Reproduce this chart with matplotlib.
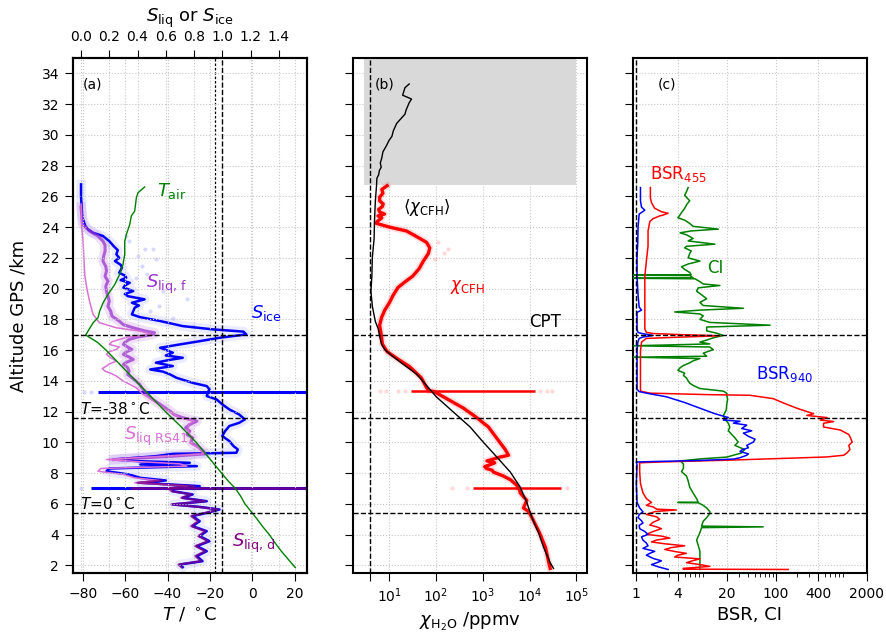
import numpy as np
import matplotlib
matplotlib.use("Agg")
import matplotlib.pyplot as plt
from matplotlib.ticker import FixedLocator, FixedFormatter, NullLocator, LogLocator, NullFormatter

# ---------------- data: panel (a) ----------------
t_air_alt = [1.85, 2.3, 2.9, 3.5, 4.0, 4.5, 5.0, 5.4, 6.0, 6.5, 7.0, 7.5, 8.0, 8.5, 9.0, 9.5,
             10.0, 10.5, 11.0, 11.6, 12.0, 12.5, 13.0, 13.5, 14.0, 14.5, 15.0, 15.5, 16.0, 16.5,
             16.98, 17.24, 17.78, 18.1, 18.54, 19.08, 19.62, 20.27, 20.92, 21.57, 22.23, 23.09,
             23.53, 24.18, 24.72, 25.04, 25.91, 26.24, 26.61]
t_air = [20.3, 17.5, 13.8, 10.5, 8.0, 5.0, 2.3, 0.0, -3.5, -5.5, -8.0, -11.5, -14.5, -17.5, -20.5, -23.5,
         -26.5, -30.0, -33.5, -38.0, -41.0, -44.5, -48.0, -51.5, -55.0, -58.5, -62.0, -65.5, -69.0, -73.0,
         -78.6, -77.5, -75.1, -72.8, -72.0, -70.4, -68.1, -64.9, -62.6, -61.0, -60.2, -60.2,
         -59.4, -57.8, -57.1, -55.5, -54.7, -53.9, -50.8]

s_ice_alt = [26.78, 26.0, 25.2, 24.61, 24.07, 23.85, 23.63, 23.42, 23.09, 22.77, 22.5, 22.23, 22.0,
             21.79, 21.55, 21.36, 21.03, 20.85, 20.71, 20.55, 20.38, 20.2, 20.06, 19.84, 19.65, 19.51,
             19.3, 19.08, 18.9, 18.76, 18.54, 18.32, 18.15, 17.89, 17.56, 17.35, 17.2, 17.02, 16.8,
             16.58, 16.37, 16.15, 15.95, 15.83, 15.65, 15.5, 15.35, 15.18, 14.96, 14.74, 14.6, 14.42,
             14.2, 13.87, 13.66, 13.44, 13.3, 13.01, 12.79, 12.47, 12.14, 11.81,
             11.49, 11.27, 11.06, 10.73, 10.41, 10.08, 9.75, 9.54, 9.32, 9.25, 9.1, 8.88, 8.77, 8.67,
             8.56, 8.45, 8.3, 8.12, 7.91, 7.69, 7.52, 7.37, 7.26, 7.15, 7.03, 6.82,
             6.61, 6.39, 6.17, 5.96, 5.8, 5.63, 5.41, 5.2, 4.87, 4.55, 4.22, 3.9, 3.57, 3.25, 2.92,
             2.6, 2.27, 2.05, 1.88]
s_ice = [0.0, 0.0, 0.005, 0.01, 0.03, 0.05, 0.085, 0.155, 0.2, 0.23, 0.26, 0.25, 0.27,
         0.24, 0.28, 0.29, 0.27, 0.31, 0.32, 0.28, 0.345, 0.31, 0.30, 0.37, 0.31, 0.33,
         0.45, 0.36, 0.41, 0.38, 0.37, 0.36, 0.415, 0.56, 0.72, 0.93, 1.15, 1.17, 0.98,
         0.84, 0.70, 0.56, 0.62, 0.65, 0.60, 0.72, 0.62, 0.53, 0.65, 0.49, 0.58, 0.63,
         0.675, 0.79, 0.89, 0.91, 0.90, 0.89, 0.96, 1.0, 1.05, 1.12,
         1.16, 1.12, 1.05, 1.02, 1.0, 1.05, 1.08, 1.11, 1.10, 0.65, 0.53, 0.23, 0.42, 0.77,
         0.42, 0.82, 0.20, 0.18, 0.34, 0.42, 0.60, 0.42, 0.63, 0.84, 0.65, 0.65,
         0.79, 0.72, 0.89, 0.65, 0.84, 0.98, 0.89, 0.79, 0.84, 0.79, 0.89, 0.84, 0.91, 0.82, 0.89,
         0.82, 0.86, 0.70, 0.72]
# single-level spikes of S_ice (altitude, low end, high end)
s_ice_spike_alt = [13.27, 7.02]
s_ice_spike_lo = [0.12, 0.07]
s_ice_spike_hi = [3.0, 3.0]

s_liq_f_alt = [25.3, 24.2, 23.74, 23.42, 23.09, 22.8, 22.44, 22.1, 21.79, 21.45, 21.14, 20.8, 20.49,
               20.15, 19.84, 19.5, 19.19, 18.85, 18.54, 18.2, 17.89, 17.65, 17.45, 17.25, 17.13, 17.02,
               16.85, 16.69, 16.5, 16.37, 16.2, 16.04, 15.88, 15.72, 15.55, 15.39, 15.2, 15.07, 14.85,
               14.63, 14.42, 14.2, 13.98, 13.77, 13.55, 13.33, 12.9, 12.47, 12.03, 11.8, 11.6, 11.38,
               11.16, 10.95, 10.73, 10.5, 10.3, 9.97, 9.65, 9.43, 9.32, 9.25, 9.1, 8.95, 8.88]
s_liq_f = [0.0, 0.01, 0.06, 0.12, 0.155, 0.17, 0.17, 0.16, 0.155, 0.175, 0.18, 0.17, 0.19,
           0.175, 0.18, 0.19, 0.20, 0.19, 0.21, 0.22, 0.27, 0.30, 0.37, 0.45, 0.52, 0.51,
           0.40, 0.34, 0.31, 0.30, 0.33, 0.36, 0.32, 0.30, 0.34, 0.37, 0.32, 0.30, 0.33,
           0.34, 0.33, 0.36, 0.39, 0.415, 0.43, 0.45, 0.49, 0.56, 0.63, 0.66, 0.72, 0.82,
           0.77, 0.74, 0.77, 0.75, 0.79, 0.78, 0.84, 0.865, 0.875, 0.88, 0.65, 0.35, 0.23]

s_liq_rs41_alt = [25.5, 24.0, 23.09, 22.0, 20.92, 20.06, 19.19, 18.32, 17.78, 17.45, 17.24, 17.05,
                  16.95, 16.85, 16.69, 16.55, 16.37, 16.2, 16.04, 15.9, 15.72, 15.5, 15.28, 15.1,
                  14.96, 14.8, 14.63, 14.45, 14.31, 13.98, 13.75, 13.55, 13.3, 13.12, 12.9, 12.47,
                  12.03, 11.6, 11.38, 11.16, 10.73, 10.3, 9.97, 9.65, 9.32, 9.25, 9.1, 8.88, 8.77,
                  8.6, 8.45, 8.3, 8.12, 7.91, 7.69, 7.52, 7.37, 7.26, 7.15]
s_liq_rs41 = [0.0, 0.005, 0.014, 0.02, 0.026, 0.04, 0.06, 0.085, 0.13, 0.25, 0.415, 0.49,
              0.45, 0.33, 0.27, 0.22, 0.20, 0.27, 0.25, 0.20, 0.18, 0.21, 0.25, 0.20,
              0.18, 0.15, 0.17, 0.22, 0.25, 0.30, 0.35, 0.39, 0.42, 0.44, 0.48, 0.55,
              0.62, 0.70, 0.80, 0.76, 0.76, 0.78, 0.77, 0.83, 0.86, 0.87, 0.60, 0.18, 0.36,
              0.70, 0.75, 0.14, 0.12, 0.30, 0.38, 0.55, 0.38, 0.58, 0.75]

s_liq_d_alt = [7.52, 7.37, 7.26, 7.15, 7.03, 6.82, 6.61, 6.39, 6.17, 5.96, 5.8, 5.63, 5.41, 5.2,
               4.87, 4.55, 4.22, 3.9, 3.57, 3.25, 2.92, 2.6, 2.27, 2.05, 1.88]
s_liq_d = [0.57, 0.40, 0.60, 0.80, 0.62, 0.64, 0.78, 0.71, 0.88, 0.64, 0.83, 0.97, 0.88, 0.78,
           0.83, 0.78, 0.88, 0.83, 0.90, 0.81, 0.88, 0.81, 0.85, 0.69, 0.71]
s_liq_d_spike_alt = [7.01]
s_liq_d_spike_lo = [0.35]
s_liq_d_spike_hi = [3.0]

ice_pts_alt = [22.6, 22.55, 22.1, 21.9, 21.47, 20.92, 20.7, 19.3, 18.86, 18.54, 18.1, 17.56,
               23.09, 23.42, 19.84, 13.27, 13.27, 7.02]
ice_pts = [0.45, 0.51, 0.40, 0.53, 0.43, 0.47, 0.39, 0.75, 0.55, 0.49, 0.65, 0.79,
           0.34, 0.32, 0.58, 0.02, 0.07, 0.0]

S_CRIT = [0.95, 1.0]
LEVELS = [17.0, 11.6, 5.4]

# ---------------- data: panel (b) ----------------
chi_mean_alt = [33.31, 33.07, 32.58, 32.33, 32.09, 31.6, 31.35, 30.74, 30.25, 29.9, 29.64, 29.27,
                28.9, 28.5, 28.16, 27.9, 27.67, 27.4, 27.18, 26.69, 25.71, 24.49, 23.26, 22.03,
                20.81, 19.83, 18.85, 17.86, 17.37, 16.88, 16.39, 16.03, 15.66, 15.17, 14.43, 13.7,
                12.96, 11.98, 11.0, 10.02, 9.04, 8.06, 7.08, 6.09, 5.11, 4.13, 3.15, 2.17, 1.8]
chi_mean = [26.9, 21.9, 19.5, 30.2, 26.9, 23.0, 21.9, 14.5, 12.3, 11.5, 10.0, 8.7,
            7.4, 7.0, 6.5, 6.8, 6.2, 6.0, 5.5, 5.4, 5.1, 4.9, 4.8, 4.4,
            4.3, 4.1, 4.4, 5.1, 5.9, 6.3, 6.9, 8.1, 11.2, 18.2, 38.9, 63,
            102, 234, 537, 1020, 2000, 3890, 6310, 8710, 11200, 15500, 20000, 27500, 32400]

chi_cfh_alt = [26.69, 26.45, 26.2, 25.95, 25.71, 25.5, 25.34, 25.15, 24.98, 24.85, 24.73, 24.6,
               24.49, 24.35, 24.24, 24.0, 23.75, 23.38, 23.01, 22.65, 22.28, 21.79, 21.3, 20.81,
               20.44, 20.07, 19.58, 19.09, 18.6, 18.11, 17.62, 16.88, 16.39, 15.9, 15.41, 14.92,
               14.19, 13.57, 13.36, 13.31, 12.96, 12.22, 11.61, 11.0, 10.26, 9.53,
               9.16, 9.04, 8.79, 8.67, 8.55, 8.42, 8.3, 8.18, 8.06, 7.81, 7.57, 7.2, 7.02,
               6.98, 6.71, 6.22, 5.73, 5.5, 5.11, 4.13, 3.15, 2.17, 1.8]
chi_cfh = [9.1, 7.0, 7.4, 6.3, 6.3, 7.5, 7.2, 6.0, 6.3, 8.0, 5.8, 7.0,
           6.3, 5.5, 5.4, 10.2, 23.4, 38.9, 63, 74, 69, 54, 44, 32,
           22, 15.5, 12.3, 10.2, 8.1, 6.9, 6.3, 6.9, 7.2, 9.1, 15.5, 27.5,
           49, 63, 70, 90, 145, 389, 741, 1320, 2000, 3020,
           3550, 2340, 1230, 1800, 1450, 1100, 1200, 1600, 1700, 2750, 3890, 5370, 5600,
           6000, 6310, 8710, 7410, 9500, 11200, 16200, 21900, 25700, 27500]
chi_spike_alt = [13.33, 7.0]
chi_spike_lo = [30, 630]
chi_spike_hi = [13200, 45700]

cfh_pts_alt = [13.33, 13.33, 13.33, 13.33, 13.33, 13.33, 13.33, 7.0, 7.0, 7.0, 22.6, 22.3, 23.0, 21.9]
cfh_pts = [6.3, 8.8, 15.6, 21.7, 17000, 23500, 30000, 217, 457, 63000, 180, 150, 110, 95]

CHI_REF = 4.0
GREY_X = [2.9, 1e5]
GREY_Y = [26.75, 35.0]

# ---------------- data: panel (c) ----------------
bsr940_alt = [26.57, 25.71, 25.3, 25.1, 24.95, 24.85, 24.0, 23.0, 22.03, 20.81, 19.58, 18.8, 18.6,
              18.45, 17.37, 17.15, 17.08, 16.95, 16.85, 16.76, 16.5, 15.9, 14.43, 13.45, 13.3, 13.2,
              12.96, 12.59, 12.22, 11.86, 11.61, 11.45, 11.37, 11.25, 11.12, 10.9, 10.75, 10.6,
              10.39, 10.2, 10.02, 9.8, 9.65, 9.5, 9.4, 9.25, 9.16, 9.0, 8.91, 8.82, 8.75, 8.72,
              8.55, 7.32, 6.09, 5.73, 5.48, 5.3, 5.11, 4.9, 4.75, 4.6, 4.38, 4.2, 4.01, 3.85, 3.64,
              3.45, 3.27, 3.1, 2.91, 2.78, 2.66, 2.45, 2.29, 2.17, 2.05, 1.9, 1.73]
bsr940 = [1.17, 1.17, 1.21, 1.35, 1.21, 1.12, 1.08, 1.07, 1.045, 1.045, 1.08, 1.12, 1.21,
          1.045, 1.045, 1.08, 1.21, 1.77, 1.27, 1.12, 1.07, 1.045, 1.045, 1.045, 1.12, 1.42,
          2.75, 5.0, 8.25, 13.5, 21.0, 17.8, 30.8, 24.8, 38.4, 32.6, 45.3, 34.4,
          40.6, 50.5, 47.9, 38.4, 40.6, 32.6, 30.8, 40.6, 38.4, 30.8, 24.8, 8.25, 1.77, 1.02,
          1.045, 1.02, 1.045, 1.14, 1.27, 1.12, 1.08, 1.21, 1.27, 1.12, 1.14, 1.35, 1.5, 1.21, 1.27,
          1.42, 1.5, 1.27, 1.87, 1.59, 1.42, 1.77, 2.33, 2.0, 1.68, 2.1, 2.9]

bsr455_alt = [26.57, 25.9, 25.59, 25.22, 25.0, 24.9, 24.78, 24.73, 24.55, 24.36, 23.75, 22.77, 21.79,
              20.81, 19.83, 18.36, 17.37, 17.15, 17.08, 17.0, 16.93, 16.85, 16.76, 16.52, 15.9,
              14.68, 13.33, 13.2, 13.16, 13.1, 13.06, 12.84, 12.65, 12.47, 12.22, 11.86, 11.75,
              11.61, 11.45, 11.35, 11.24, 11.0, 10.8, 10.51, 10.3, 10.02, 9.8, 9.53, 9.3, 9.16,
              9.05, 8.99, 8.85, 8.79, 8.72, 8.67, 8.06, 7.32, 6.71, 6.34, 6.09, 5.9, 5.8, 5.65,
              5.6, 5.5, 5.31, 5.15, 4.99, 4.8, 4.62, 4.5, 4.38, 4.2, 4.01, 3.9, 3.77, 3.65, 3.52,
              3.4, 3.27, 3.15, 3.03, 2.9, 2.78, 2.66, 2.54, 2.42, 2.3, 2.17, 2.05, 1.93, 1.8, 1.75,
              1.73]
bsr455 = [1.62, 1.62, 1.68, 1.87, 2.33, 2.9, 2.45, 2.21, 1.77, 1.59, 1.5, 1.5, 1.42,
          1.35, 1.35, 1.35, 1.35, 1.42, 1.77, 4.76, 15.9, 4.76, 1.42, 1.21, 1.17,
          1.17, 1.17, 1.59, 3.4, 11.4, 42.8, 92, 115, 144, 199, 346, 277,
          537, 430, 670, 479, 479, 832, 1100, 1160, 1230, 1100, 1140, 1030, 930,
          537, 222, 24.8, 8.25, 2.21, 1.14, 1.14, 1.17, 1.27, 1.42, 1.68, 1.42, 1.77, 2.0,
          3.8, 1.9, 1.42, 2.0, 2.2, 1.77, 1.59, 2.0, 2.33, 1.77, 1.42, 2.33, 3.07, 2.0, 1.68,
          2.6, 5.0, 3.2, 2.6, 3.6, 5.3, 4.0, 3.6, 8.25, 6.5, 5.3, 8.25, 11.4, 4.76, 4.76,
          150]

ci_alt = [26.57, 26.3, 26.08, 25.9, 25.71, 25.5, 25.22, 25.0, 24.8, 24.61, 24.45, 24.24, 24.05,
          23.87, 23.75, 23.63, 23.5, 23.26, 23.1, 22.89, 22.75, 22.65, 22.45, 22.28, 22.0, 21.79,
          21.6, 21.42, 21.25, 21.05, 20.9, 20.87, 20.85, 20.7, 20.67, 20.64, 20.45, 20.3, 20.2,
          20.05, 19.83, 19.6, 19.34, 19.1, 18.9, 18.72, 18.6, 18.48, 18.35, 18.23, 18.0, 17.8,
          17.62, 17.5, 17.25, 17.1, 16.95, 16.8, 16.65, 16.52, 16.4, 16.28, 16.2, 16.03, 15.8,
          15.6, 15.54, 15.45, 15.3, 15.17, 15.0, 14.85, 14.68, 14.5, 14.35, 14.19, 14.0, 13.85,
          13.7, 13.5, 13.33, 13.2, 13.08, 12.8, 12.47, 12.1, 11.74, 11.5, 11.24, 11.0, 10.75,
          10.51, 10.3, 10.02, 9.8, 9.53, 9.3, 9.04, 8.92, 8.79, 8.6, 8.3, 8.1, 7.81, 7.5, 7.08,
          6.7, 6.34, 6.1, 6.09, 6.07, 5.9, 5.73, 5.5, 5.36, 5.1, 4.87, 4.55, 4.5, 4.45, 4.13,
          3.64, 3.3, 2.91, 2.42, 2.0, 1.73]
ci = [5.6, 5.3, 5.0, 5.4, 5.9, 5.4, 5.0, 4.6, 4.3, 4.0, 5.0, 5.9, 6.6,
      15.1, 6.2, 4.3, 5.3, 6.6, 5.6, 13.5, 5.3, 5.0, 6.2, 5.9, 5.6, 8.25,
      5.6, 4.5, 5.0, 5.9, 6.2, 0.9, 5.9, 6.6, 0.9, 7.0, 8.25, 9.2, 15.9,
      7.8, 7.4, 8.7, 10.3, 8.25, 9.2, 34.4, 8.25, 3.6, 8.25, 9.2, 8.25, 11.4,
      83, 10.3, 10.3, 14.3, 17.8, 12.8, 10.3, 8.25, 11.4, 0.9, 11.4, 12.8, 9.2,
      10.3, 0.9, 8.25, 6.6, 5.9, 4.8, 4.3, 4.0, 5.0, 4.8, 5.3, 5.6, 5.9,
      6.6, 8.25, 17.8, 19.9, 19.9, 20.5, 19.9, 19.6, 17.8, 18.8, 21.0, 22.0, 21.0,
      23.5, 26.0, 29.0, 26.0, 36.0, 32.0, 19.9, 8.25, 4.3, 4.8, 4.8, 4.5, 5.3, 5.6, 5.9,
      6.6, 7.4, 7.8, 4.0, 7.8, 9.2, 10.3, 11.4, 11.4, 10.3, 9.2, 8.7, 66, 8.7, 8.25,
      7.4, 7.8, 8.25, 8.25, 8.25, 8.25]

BSR_REF = 1.0

# ---------------- figure ----------------
plt.rcParams.update({
    "font.size": 10,
    "axes.linewidth": 1.5,
    "xtick.major.size": 6, "ytick.major.size": 6,
    "xtick.minor.size": 3, "ytick.minor.size": 3,
    "xtick.major.pad": 4, "ytick.major.pad": 4,
})

fig = plt.figure(figsize=(8.87, 6.41), dpi=100)
W, H = 887.0, 641.0
bottom = 1 - 573 / H
height = 515 / H
width = 234 / W
ax_a = fig.add_axes([73 / W, bottom, width, height])
ax_b = fig.add_axes([353 / W, bottom, width, height])
ax_c = fig.add_axes([633 / W, bottom, width, height])

grid_kw = dict(color="0.78", linestyle=":", linewidth=0.8)
yt = np.arange(2, 35, 2)

for ax in (ax_a, ax_b, ax_c):
    ax.set_ylim(1.5, 35)
    ax.set_yticks(yt)
    ax.grid(True, **grid_kw)
    ax.set_axisbelow(True)
    for lv in LEVELS:
        ax.axhline(lv, color="k", ls="--", lw=1.0, zorder=4)
ax_b.set_yticklabels([])
ax_c.set_yticklabels([])

# ---- panel (a) ----
ax_s = ax_a.twiny()
ax_s.set_xlim(-0.057, 1.60)
ax_s.set_ylim(1.5, 35)
ax_s.set_xticks(np.arange(0, 1.41, 0.2))
ax_s.set_xticklabels(["%.1f" % v for v in np.arange(0, 1.41, 0.2)])
ax_s.grid(True, axis="x", **grid_kw)
ax_s.set_xlabel(r"$S_\mathrm{liq}$ or $S_\mathrm{ice}$", fontsize=13, labelpad=6)

ax_a.set_zorder(ax_s.get_zorder() + 1)
ax_a.patch.set_visible(False)

ax_a.set_xlim(-84.6, 25.8)
ax_a.set_xticks([-80, -60, -40, -20, 0, 20])
ax_a.set_xlabel(r"$T$ / $^\circ$C", fontsize=13)
ax_a.set_ylabel("Altitude GPS /km", fontsize=13, labelpad=10)

ax_s.plot(s_ice, s_ice_alt, color="blue", lw=7, alpha=0.08, solid_joinstyle="round")
ax_s.plot(s_liq_f, s_liq_f_alt, color="darkorchid", lw=7, alpha=0.15)
ax_s.scatter(ice_pts, ice_pts_alt, s=9, color="blue", alpha=0.15, lw=0)
ax_s.plot(s_ice, s_ice_alt, color="blue", lw=1.8)
ax_s.hlines(s_ice_spike_alt, s_ice_spike_lo, s_ice_spike_hi, color="blue", lw=2.2)
ax_s.plot(s_liq_f, s_liq_f_alt, color="darkorchid", lw=2.2, alpha=0.75)
ax_s.plot(s_liq_rs41, s_liq_rs41_alt, color="orchid", lw=1.1)
ax_s.plot(s_liq_d, s_liq_d_alt, color="purple", lw=1.6, alpha=0.75)
ax_s.hlines(s_liq_d_spike_alt, s_liq_d_spike_lo, s_liq_d_spike_hi, color="purple", lw=1.8, alpha=0.85)
ax_s.axvline(S_CRIT[0], color="k", ls=(0, (2, 1.5)), lw=0.9)
ax_s.axvline(S_CRIT[1], color="k", ls="--", lw=1.0)

ax_a.plot(t_air, t_air_alt, color="green", lw=1.0)

ax_a.text(0.04, 0.948, "(a)", transform=ax_a.transAxes, fontsize=10, va="center")
ax_a.text(-45, 26.35, r"$T_\mathrm{air}$", color="green", fontsize=13, va="center")
ax_a.text(-50.1, 20.27, r"$S_\mathrm{liq,\,f}$", color="darkorchid", fontsize=13, va="center")
ax_a.text(-0.5, 18.43, r"$S_\mathrm{ice}$", color="blue", fontsize=13, va="center")
ax_a.text(-81.5, 12.15, r"$T$=-38$^\circ$C", fontsize=11, va="center")
ax_a.text(-60.5, 10.4, r"$S_\mathrm{liq\ RS41}$", color="orchid", fontsize=13, va="center")
ax_a.text(-81.5, 5.96, r"$T$=0$^\circ$C", fontsize=11, va="center")
ax_a.text(-9.7, 3.4, r"$S_\mathrm{liq,\,d}$", color="purple", fontsize=13, va="center")

# ---- panel (b) ----
ax_b.set_xscale("log")
ax_b.set_xlim(1.7, 1.68e5)
ax_b.fill_betweenx(GREY_Y, GREY_X[0], GREY_X[1], color="0.85", lw=0, zorder=1)
ax_b.xaxis.set_major_locator(FixedLocator([CHI_REF, 1e1, 1e2, 1e3, 1e4, 1e5]))
ax_b.xaxis.set_major_formatter(FixedFormatter(["", r"$10^{1}$", r"$10^{2}$", r"$10^{3}$",
                                               r"$10^{4}$", r"$10^{5}$"]))
ax_b.xaxis.set_minor_locator(NullLocator())
ax_b.axvline(CHI_REF, color="k", ls="--", lw=1.0, zorder=4)
ax_b.plot(chi_cfh, chi_cfh_alt, color="red", lw=5, alpha=0.12, zorder=2)
ax_b.scatter(cfh_pts, cfh_pts_alt, s=9, color="red", alpha=0.15, lw=0, zorder=2)
ax_b.plot(chi_cfh, chi_cfh_alt, color="red", lw=2.4, zorder=3)
ax_b.hlines(chi_spike_alt, chi_spike_lo, chi_spike_hi, color="red", lw=1.8, zorder=3)
ax_b.plot(chi_mean, chi_mean_alt, color="black", lw=1.0, zorder=3)
ax_b.set_xlabel(r"$\chi_\mathrm{H_2O}$ /ppmv", fontsize=13)
ax_b.text(0.094, 0.948, "(b)", transform=ax_b.transAxes, fontsize=10, va="center")
ax_b.text(20, 25.3, r"$\langle\chi_\mathrm{CFH}\rangle$", fontsize=12, va="center")
ax_b.text(200, 20.1, r"$\chi_\mathrm{CFH}$", color="red", fontsize=12, va="center")
ax_b.text(1.0e4, 17.85, "CPT", fontsize=12, va="center")

# ---- panel (c) ----
ax_c.set_xscale("log")
ax_c.set_xlim(0.915, 2000)
cticks = [1, 4, 20, 100, 400, 2000]
ax_c.xaxis.set_major_locator(FixedLocator(cticks))
ax_c.xaxis.set_major_formatter(FixedFormatter([str(v) for v in cticks]))
ax_c.xaxis.set_minor_locator(LogLocator(base=10, subs=np.arange(2, 10), numticks=20))
ax_c.xaxis.set_minor_formatter(NullFormatter())
ax_c.axvline(BSR_REF, color="k", ls="--", lw=1.0, zorder=4)
ax_c.plot(ci, ci_alt, color="green", lw=1.1, zorder=3)
ax_c.plot(bsr455, bsr455_alt, color="red", lw=1.1, zorder=3)
ax_c.plot(bsr940, bsr940_alt, color="blue", lw=1.1, zorder=3)
ax_c.set_xlabel("BSR, CI", fontsize=13)
ax_c.text(0.107, 0.948, "(c)", transform=ax_c.transAxes, fontsize=10, va="center")
ax_c.text(1.59, 27.43, r"BSR$_{455}$", color="red", fontsize=12, va="center")
ax_c.text(10.3, 21.35, "CI", color="green", fontsize=12, va="center")
ax_c.text(52, 14.43, r"BSR$_{940}$", color="blue", fontsize=12, va="center")

fig.savefig("out.png", dpi=100)
